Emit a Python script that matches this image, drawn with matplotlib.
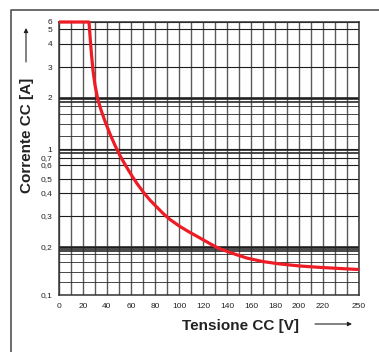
import numpy as np
import matplotlib
matplotlib.use('Agg')
import matplotlib.pyplot as plt
from matplotlib.lines import Line2D

plt.rcParams['font.family'] = ['Liberation Sans', 'DejaVu Sans']

# ---- data ----
voltage = [0, 25, 26.1, 27.1, 28.3, 30.0, 32.1, 35.0, 38.3, 42.5, 46.7, 50.8,
           55.0, 60.6, 65.0, 70.25, 75.8, 81.4, 86.7, 92.5, 100.8, 109.2,
           117.5, 125.8, 132.5, 145, 156.4, 170, 184.2, 200.8, 217.5, 234.2, 250]
current = [6, 6, 4.25, 3.49, 2.88, 2.37, 2.0, 1.70, 1.46, 1.226, 1.049, 0.773,
           0.607, 0.523, 0.465, 0.406, 0.366, 0.336, 0.310, 0.2865, 0.2615, 0.2418,
           0.225, 0.209, 0.197, 0.182, 0.1706, 0.162, 0.1565, 0.152, 0.149, 0.1466, 0.1445]

x_ticks = [0, 20, 40, 60, 80, 100, 120, 140, 160, 180, 200, 220, 250]
x_tick_labels = [str(v) for v in x_ticks]
x_minor = list(range(10, 250, 10))

y_ticks = [0.1, 0.2, 0.3, 0.4, 0.5, 0.6, 0.7, 1, 2, 3, 4, 5, 6]
y_tick_labels = ['0,1', '0,2', '0,3', '0,4', '0,5', '0,6', '0,7',
                 '1', '2', '3', '4', '5', '6']
y_minor = [0.12, 0.14, 0.16, 0.18, 0.19, 0.1925, 0.195, 0.1975, 0.2025,
           0.84, 0.9, 0.95,
           1.2, 1.4, 1.6, 1.8, 1.9, 1.93, 1.96, 2.03]

# ruling of the (non-uniform) log paper: relative height of each labelled line
knot_height = [0, 48, 79, 102, 116, 130, 137, 146, 197, 228, 251, 266, 273]
knot_log = np.log10(y_ticks)


def fwd(v):
    v = np.asarray(v, dtype=float)
    lv = np.log10(np.clip(v, 1e-6, None))
    return np.interp(lv, knot_log, knot_height)


def inv(h):
    h = np.asarray(h, dtype=float)
    return 10 ** np.interp(h, knot_height, knot_log)


W, H = 379, 352
fig = plt.figure(figsize=(W / 100, H / 100), dpi=100)
fig.patch.set_facecolor('white')
ax = fig.add_axes([59 / W, 1 - 295 / H, 300 / W, 273 / H])

ax.set_yscale('function', functions=(fwd, inv))
ax.set_xlim(0, 250)
ax.set_ylim(0.1, 6)

ax.set_xticks(x_ticks, x_tick_labels)
ax.set_xticks(x_minor, minor=True)
ax.set_yticks(y_ticks, y_tick_labels)
ax.set_yticks(y_minor, minor=True)
ax.tick_params(which='both', length=0)
ax.tick_params(axis='x', labelsize=6, pad=6, colors='#222222')
ax.tick_params(axis='y', labelsize=6, pad=5, colors='#222222')

ax.grid(axis='x', which='both', color='#5a5a5a', lw=1.0)
ax.grid(axis='y', which='major', color='#1e1e1e', lw=0.8)
ax.grid(axis='y', which='minor', color='#2a2a2a', lw=0.6)
ax.set_axisbelow(True)

for s in ax.spines.values():
    s.set_color('#333333')
    s.set_linewidth(1.1)

ax.plot(voltage, current, color='#ee1c25', lw=2.3, solid_joinstyle='round',
        solid_capstyle='butt', zorder=5, clip_on=False)

# axis titles
fig.text(241 / W, 1 - 326 / H, 'Tensione CC [V]', ha='center', va='center',
         fontsize=11, fontweight='bold', color='#222222')
fig.text(27 / W, 1 - 135 / H, 'Corrente CC [A]', ha='center', va='center',
         rotation=90, fontsize=11, fontweight='bold', color='#222222')

arrow = dict(arrowstyle='-|>', lw=0.8, color='#222222', mutation_scale=6,
             shrinkA=0, shrinkB=0)
ax.annotate('', xy=(352 / W, 1 - 324 / H), xytext=(315 / W, 1 - 324 / H),
            xycoords='figure fraction', textcoords='figure fraction',
            arrowprops=arrow)
ax.annotate('', xy=(26 / W, 1 - 28 / H), xytext=(26 / W, 1 - 62 / H),
            xycoords='figure fraction', textcoords='figure fraction',
            arrowprops=arrow)

# outer frame (left and top edges visible)
fig.add_artist(Line2D([11 / W, 11 / W, 1.0], [0.0, 1 - 10 / H, 1 - 10 / H],
                      transform=fig.transFigure, color='#444444', lw=1.1))

fig.savefig('out.png', dpi=100)
